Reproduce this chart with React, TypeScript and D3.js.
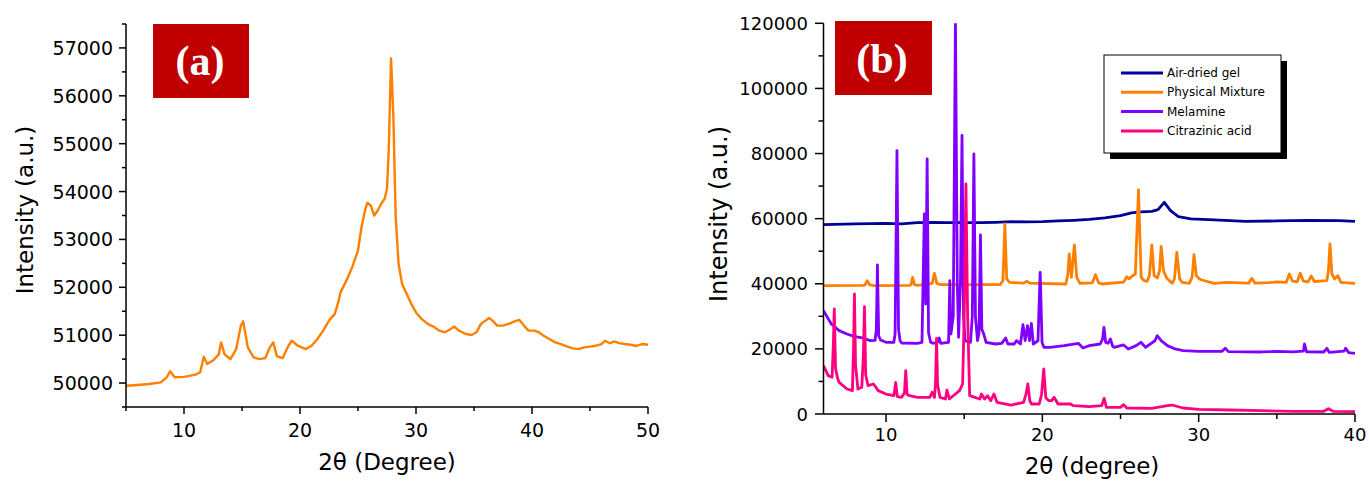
import React from "react";
import * as d3 from "d3";

// Panel (a) data: 2θ (deg) and intensity
const aX = [5, 6, 7, 8, 8.5, 8.8, 9.2, 10, 11, 11.4, 11.7, 12, 12.5, 13, 13.2, 13.5, 14, 14.5, 14.9, 15.1, 15.5, 16, 16.5, 17, 17.4, 17.7, 18, 18.5, 19, 19.3, 19.8, 20.5, 21, 21.5, 22, 22.5, 23, 23.3, 23.5, 24, 24.5, 25, 25.3, 25.6, 25.8, 26.1, 26.4, 26.7, 27, 27.3, 27.5, 27.65, 27.85, 28.05, 28.25, 28.5, 28.8, 29.2, 29.6, 30, 30.5, 31, 31.5, 32, 32.5, 33, 33.3, 33.7, 34.3, 34.8, 35.2, 35.6, 36, 36.3, 36.6, 37, 37.5, 38, 38.5, 38.9, 39.3, 39.7, 40.2, 40.6, 41, 41.5, 42, 42.5, 43, 43.5, 44, 44.5, 45, 45.5, 46, 46.3, 46.7, 47.1, 47.5, 48, 48.5, 49, 49.5, 50];
const aY = [49944, 49960, 49980, 50015, 50120, 50245, 50120, 50130, 50175, 50225, 50550, 50400, 50470, 50600, 50850, 50600, 50500, 50710, 51200, 51290, 50745, 50535, 50500, 50520, 50745, 50850, 50565, 50520, 50780, 50885, 50780, 50710, 50780, 50920, 51095, 51305, 51445, 51690, 51900, 52140, 52420, 52770, 53255, 53605, 53765, 53710, 53500, 53605, 53745, 53850, 54060, 54860, 56780, 55560, 53465, 52490, 52070, 51860, 51650, 51475, 51335, 51235, 51180, 51095, 51060, 51130, 51180, 51095, 51025, 51005, 51060, 51235, 51305, 51360, 51305, 51200, 51200, 51235, 51290, 51320, 51200, 51095, 51095, 51060, 50990, 50920, 50850, 50815, 50765, 50725, 50710, 50745, 50760, 50780, 50815, 50885, 50830, 50870, 50835, 50815, 50800, 50775, 50815, 50800];

// Panel (b) data
const gelX = [6, 8, 10, 11, 12, 13, 14, 15, 16, 17, 18, 19, 20, 21, 22, 23, 24, 25, 25.7, 26.3, 27, 27.4, 27.8, 28.2, 28.7, 29.5, 31, 33, 35, 37, 39, 40];
const gelY = [58160, 58370, 58570, 58370, 58780, 58880, 58780, 58780, 58780, 58880, 59080, 58980, 59080, 59290, 59500, 59800, 60210, 60930, 61750, 62050, 62260, 62770, 65020, 62460, 60620, 59900, 59600, 59190, 59290, 59500, 59390, 59190];

const mixX = [6, 8.5, 8.65, 8.8, 8.95, 9.2, 11.5, 11.6, 11.7, 11.82, 12, 12.95, 13.1, 13.25, 13.5, 17.3, 17.48, 17.6, 17.72, 17.9, 18.8, 19, 19.2, 21.5, 21.62, 21.72, 21.86, 22.05, 22.2, 22.4, 23.2, 23.4, 23.6, 23.8, 25.2, 25.4, 25.55, 25.75, 25.95, 26.15, 26.32, 26.5, 26.7, 26.85, 27, 27.15, 27.35, 27.5, 27.6, 27.75, 27.95, 28.3, 28.45, 28.6, 28.78, 28.95, 29.4, 29.58, 29.7, 29.85, 30.05, 30.2, 31, 31.8, 33.2, 33.4, 33.6, 34.5, 35, 35.6, 35.8, 36, 36.3, 36.5, 36.7, 37, 37.2, 37.4, 38.2, 38.3, 38.4, 38.52, 38.7, 38.9, 39.1, 40];
const mixY = [39420, 39520, 39600, 40960, 39700, 39420, 39520, 39700, 41980, 39700, 39520, 40100, 43210, 40100, 39730, 39730, 41000, 58370, 41500, 40450, 40200, 40755, 40200, 39930, 42500, 49150, 42000, 51920, 42000, 40140, 40300, 42800, 40300, 39930, 40500, 42190, 41500, 42400, 43000, 68800, 42000, 41000, 40750, 42500, 51920, 42500, 41770, 44000, 51510, 44000, 41770, 40140, 41500, 49660, 41500, 40450, 40140, 42000, 48950, 42500, 41470, 41160, 40140, 40450, 40200, 41670, 40200, 40350, 40550, 40400, 43000, 40800, 40600, 43210, 40800, 40600, 42400, 40700, 40960, 44000, 52220, 43000, 41470, 42500, 40450, 40140];

const melX = [6, 6.5, 7, 7.5, 8, 8.5, 9, 9.3, 9.38, 9.45, 9.53, 9.65, 10, 10.5, 10.58, 10.7, 10.8, 10.9, 11, 12, 12.3, 12.45, 12.54, 12.63, 12.72, 12.85, 13, 13.3, 13.4, 13.5, 14, 14.08, 14.15, 14.3, 14.44, 14.56, 14.64, 14.76, 14.86, 14.96, 15.05, 15.4, 15.52, 15.62, 15.72, 15.85, 15.95, 16.04, 16.13, 16.25, 16.4, 17, 17.4, 17.65, 17.8, 18.2, 18.35, 18.6, 18.76, 18.9, 19.05, 19.18, 19.3, 19.42, 19.72, 19.86, 19.98, 20.1, 20.5, 21, 21.4, 22.3, 22.6, 23, 23.7, 23.85, 23.94, 24.05, 24.2, 24.35, 24.5, 24.6, 25.2, 25.5, 26, 26.3, 26.6, 27.2, 27.35, 27.6, 28, 28.5, 29, 30, 31.5, 31.7, 31.9, 34, 35, 36, 36.7, 36.77, 36.9, 38, 38.2, 38.35, 39.3, 39.4, 39.6, 40];
const melY = [31740, 27650, 25600, 24580, 23760, 23350, 22530, 22600, 26000, 45770, 24000, 22730, 22020, 22020, 24580, 80900, 26000, 22500, 21810, 21710, 22020, 61440, 33790, 78340, 25000, 22020, 21710, 22000, 23350, 21710, 22020, 40960, 24580, 30000, 121000, 40000, 23550, 40000, 85600, 30000, 22530, 22020, 30000, 79870, 30000, 22530, 25000, 55000, 26000, 24580, 22020, 21500, 21710, 23350, 21500, 21500, 22530, 21500, 27440, 22530, 27140, 22530, 27850, 21500, 22500, 43520, 22000, 20480, 20480, 20790, 20990, 21710, 20270, 20990, 21500, 23000, 26620, 22000, 21710, 23040, 20800, 20480, 21200, 19970, 20990, 22020, 20480, 22500, 24060, 22530, 20990, 19970, 19460, 19250, 19250, 20170, 19150, 19050, 19250, 19050, 19300, 21500, 19100, 19050, 20170, 18940, 19300, 20170, 18840, 18640];

const citX = [6, 6.3, 6.55, 6.62, 6.69, 6.77, 6.9, 7, 7.5, 7.85, 7.92, 7.98, 8.05, 8.2, 8.45, 8.55, 8.62, 8.7, 8.85, 9.2, 9.5, 10, 10.5, 10.62, 10.72, 11, 11.18, 11.26, 11.35, 11.5, 12, 12.8, 12.95, 13.1, 13.17, 13.23, 13.3, 13.45, 13.8, 13.9, 14.05, 14.7, 14.9, 15, 15.11, 15.22, 15.35, 16, 16.1, 16.3, 16.5, 16.7, 16.9, 17.1, 18, 18.8, 18.95, 19.07, 19.2, 19.3, 19.8, 19.95, 20.09, 20.22, 20.4, 20.6, 20.75, 21, 21.8, 22, 23, 23.8, 23.95, 24.1, 25, 25.2, 25.4, 27, 28, 28.3, 29, 30, 32, 34, 36, 38, 38.3, 38.6, 40];
const citY = [14850, 11780, 11270, 20000, 32260, 14000, 11000, 9730, 7680, 7170, 20000, 36860, 15000, 7680, 8190, 18000, 32970, 12000, 8700, 9220, 7170, 6140, 5630, 9730, 5320, 5120, 6500, 13310, 6000, 5630, 5120, 5120, 6660, 5120, 10000, 23250, 9000, 5120, 4610, 7370, 4610, 7170, 9220, 30000, 70650, 30000, 5630, 4610, 6140, 4610, 5630, 4100, 6140, 3580, 2760, 3580, 6000, 9220, 4000, 3070, 3070, 6000, 13820, 5000, 4100, 4100, 5120, 3070, 3070, 2560, 2250, 2560, 4810, 2050, 2050, 2870, 1840, 1740, 2560, 2760, 1840, 1430, 1230, 1020, 820, 820, 1640, 820, 720];

const aYTicks = [50000, 51000, 52000, 53000, 54000, 55000, 56000, 57000];
const aXTicks = [10, 20, 30, 40, 50];
const bYTicks = [0, 20000, 40000, 60000, 80000, 100000, 120000];
const bXTicks = [10, 20, 30, 40];

const legendLabels = ["Air-dried gel", "Physical Mixture", "Melamine", "Citrazinic acid"];
const seriesColors = ["#000099", "#ff8000", "#8000ff", "#ff0080"];

const FONT = "'DejaVu Sans', Verdana, sans-serif";

function zip(xs: number[], ys: number[]): [number, number][] {
  return xs.map((x, i) => [x, ys[i]]);
}

export default function App() {
  // Panel (a) scales
  const ax = d3.scaleLinear().domain([5, 50]).range([126, 648]);
  const ay = d3.scaleLinear().domain([49500, 57500]).range([407, 24]);
  // Panel (b) scales
  const bx = d3.scaleLinear().domain([6, 40]).range([823.5, 1355]);
  const by = d3.scaleLinear().domain([0, 120000]).range([414, 23.3]);

  const lineA = d3.line<[number, number]>().x((d) => ax(d[0])).y((d) => ay(d[1]));
  const lineB = d3.line<[number, number]>().x((d) => bx(d[0])).y((d) => by(d[1]));

  const aMinorY = d3.range(49500, 57501, 500);
  const aMinorX = d3.range(5, 50.01, 5);
  const bMinorY = d3.range(0, 120001, 10000);
  const bMinorX = d3.range(10, 40.01, 5);

  const bSeries = [zip(gelX, gelY), zip(mixX, mixY), zip(melX, melY), zip(citX, citY)];

  return (
    <svg width={1369} height={482} style={{ position: "absolute", left: 0, top: 0, background: "#fff" }}>
      <defs>
        <clipPath id="clipB">
          <rect x={823.5} y={23.3} width={1355 - 823.5 + 2} height={414 - 23.3} />
        </clipPath>
      </defs>
      {/* ---------- Panel (a) ---------- */}
      <path d={lineA(zip(aX, aY)) || ""} fill="none" stroke="#ff8000" strokeWidth={2.4} strokeLinejoin="round" />
      <g stroke="#000" strokeWidth={1.5}>
        <line x1={126} x2={126} y1={24} y2={407} />
        <line x1={126} x2={648} y1={407} y2={407} />
        {aMinorY.map((v) => (
          <line key={"amy" + v} x1={126} x2={v % 1000 === 0 ? 119 : 122} y1={ay(v)} y2={ay(v)} />
        ))}
        {aMinorX.map((v) => (
          <line key={"amx" + v} x1={ax(v)} x2={ax(v)} y1={407} y2={v % 10 === 0 ? 414 : 411} />
        ))}
      </g>
      <g fontFamily={FONT} fontSize={19} fill="#000">
        {aYTicks.map((v) => (
          <text key={"ayt" + v} x={113} y={ay(v)} textAnchor="end" dominantBaseline="central">
            {v}
          </text>
        ))}
        {aXTicks.map((v) => (
          <text key={"axt" + v} x={ax(v)} y={437} textAnchor="middle">
            {v}
          </text>
        ))}
      </g>
      <text x={387} y={470} textAnchor="middle" fontFamily={FONT} fontSize={23}>
        2θ (Degree)
      </text>
      <text transform="translate(33,210) rotate(-90)" textAnchor="middle" fontFamily={FONT} fontSize={23}>
        Intensity (a.u.)
      </text>
      <rect x={153} y={24} width={96} height={74} fill="#c00000" />
      <text x={200} y={75} textAnchor="middle" fill="#fff" fontFamily="'Liberation Serif', 'Times New Roman', serif" fontWeight="bold" fontSize={42}>
        (a)
      </text>

      {/* ---------- Panel (b) ---------- */}
      <g clipPath="url(#clipB)">
        {bSeries.map((s, i) => (
          <path key={"bs" + i} d={lineB(s) || ""} fill="none" stroke={seriesColors[i]} strokeWidth={2.8} strokeLinejoin="round" />
        ))}
      </g>
      <g stroke="#000" strokeWidth={1.5}>
        <line x1={823.5} x2={823.5} y1={23.3} y2={414} />
        <line x1={823.5} x2={1355} y1={414} y2={414} />
        {bMinorY.map((v) => (
          <line key={"bmy" + v} x1={823.5} x2={v % 20000 === 0 ? 815 : 818.5} y1={by(v)} y2={by(v)} />
        ))}
        {bMinorX.map((v) => (
          <line key={"bmx" + v} x1={bx(v)} x2={bx(v)} y1={414} y2={v % 10 === 0 ? 422 : 419} />
        ))}
      </g>
      <g fontFamily={FONT} fontSize={18} fill="#000">
        {bYTicks.map((v) => (
          <text key={"byt" + v} x={808} y={by(v)} textAnchor="end" dominantBaseline="central">
            {v}
          </text>
        ))}
        {bXTicks.map((v) => (
          <text key={"bxt" + v} x={bx(v)} y={441} textAnchor="middle">
            {v}
          </text>
        ))}
      </g>
      <text x={1092} y={474} textAnchor="middle" fontFamily={FONT} fontSize={23}>
        2θ (degree)
      </text>
      <text transform="translate(727,214) rotate(-90)" textAnchor="middle" fontFamily={FONT} fontSize={24}>
        Intensity (a.u.)
      </text>
      <rect x={835} y={21} width={97} height={74} fill="#c00000" />
      <text x={882} y={73} textAnchor="middle" fill="#fff" fontFamily="'Liberation Serif', 'Times New Roman', serif" fontWeight="bold" fontSize={42}>
        (b)
      </text>

      {/* Legend */}
      <rect x={1110} y={61} width={177} height={98} fill="#000" />
      <rect x={1104} y={55} width={177} height={98} fill="#fff" stroke="#000" strokeWidth={1} />
      {legendLabels.map((lab, i) => (
        <g key={"lg" + i}>
          <line x1={1121} x2={1163} y1={73 + i * 19.3} y2={73 + i * 19.3} stroke={seriesColors[i]} strokeWidth={3} />
          <text x={1167} y={73 + i * 19.3} dominantBaseline="central" fontFamily={FONT} fontSize={12}>
            {lab}
          </text>
        </g>
      ))}
    </svg>
  );
}
